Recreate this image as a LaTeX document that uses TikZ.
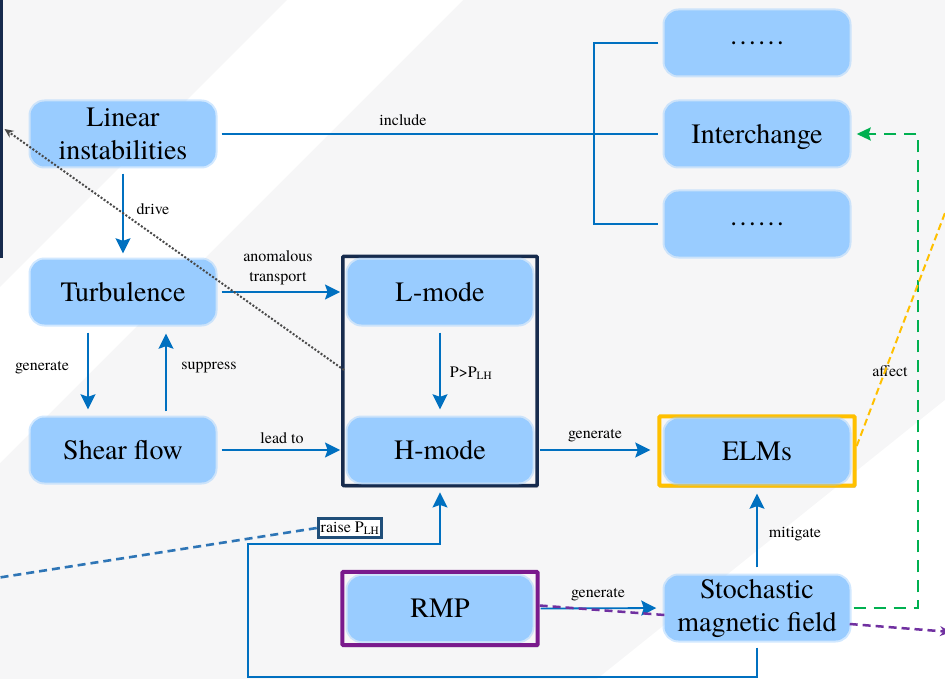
\documentclass[tikz,border=0pt]{standalone}
\usepackage{fontspec}
\setmainfont{texgyretermes}[Extension=.otf, UprightFont=*-regular,
  BoldFont=*-bold, ItalicFont=*-italic, BoldItalicFont=*-bolditalic]
\usetikzlibrary{arrows.meta,shadows,fit,calc}

\definecolor{nodeblue}{HTML}{99CCFF}
\definecolor{linkblue}{HTML}{0070C0}
\definecolor{navyframe}{HTML}{172B4D}
\definecolor{raiseblue}{HTML}{1F4E79}
\definecolor{dashblue}{HTML}{2E75B6}
\definecolor{elmyellow}{HTML}{FFC000}
\definecolor{rmppurple}{HTML}{7A1A8C}
\definecolor{purpledash}{HTML}{7030A0}
\definecolor{greendash}{HTML}{00B050}
\definecolor{bggray}{HTML}{F6F6F7}
\definecolor{dotgray}{HTML}{4A4A4A}

\pgfdeclarelayer{bglayer}
\pgfdeclarelayer{frames}
\pgfsetlayers{bglayer,frames,main}

\tikzset{
  concept/.style={rounded corners=14pt, fill=nodeblue, minimum width=185pt,
    minimum height=65pt, align=center, inner sep=0pt,
    font=\fontsize{28}{33}\selectfont,
    preaction={draw=nodeblue, draw opacity=0.45, line width=4pt}},
  frame/.style={draw=#1, line width=3.5pt, rounded corners=1pt, fill=bggray,
    drop shadow={opacity=0.25, shadow xshift=1.5pt, shadow yshift=-2pt, fill=black}},
  link/.style={draw=linkblue, line width=1.8pt},
  tip/.style={-{Stealth[length=15pt,width=15pt,inset=2.5pt]}},
  arrowlink/.style={link, tip},
  lbl/.style={font=\fontsize{16}{20}\selectfont, inner sep=1pt, align=center},
  raisebox/.style={draw=raiseblue, line width=3pt, fill=white, inner sep=2.5pt,
    font=\fontsize{16}{18}\selectfont,
    drop shadow={opacity=0.25, shadow xshift=1.5pt, shadow yshift=-2pt, fill=black}},
  bluedash/.style={draw=dashblue, line width=2.6pt, dash pattern=on 8pt off 5pt},
  purpledashed/.style={draw=purpledash, line width=2.5pt, dash pattern=on 8pt off 5pt},
  greendashed/.style={draw=greendash, line width=2pt, dash pattern=on 12pt off 8pt},
  yellowdashed/.style={draw=elmyellow, line width=2pt, dash pattern=on 7pt off 4pt},
  dottedlink/.style={draw=dotgray, line width=2pt, dash pattern=on 2pt off 1.8pt,
    -{Stealth[length=9pt,width=8pt]}}
}

\begin{document}
\begin{tikzpicture}[x=1pt, y=-1pt]
\useasboundingbox (0,0) rectangle (945,679);

% light backdrop with pale diagonal bands
\begin{pgfonlayer}{bglayer}
  \fill[bggray] (0,0) rectangle (945,679);
  \fill[white] (287,0) -- (463,0) -- (0,463) -- (0,287) -- cycle;
  \fill[white] (597,679) -- (945,400) -- (945,679) -- cycle;
\end{pgfonlayer}

\clip (0,0) rectangle (945,679);

% concept nodes
\node[concept] (lin) at (123,134) {Linear\\instabilities};
\node[concept] (tur) at (123,292) {Turbulence};
\node[concept] (shr) at (123,450) {Shear flow};
\node[concept] (lmd) at (440,292) {L-mode};
\node[concept] (hmd) at (440,450) {H-mode};
\node[concept] (elm) at (757,451) {ELMs};
\node[concept] (rmp) at (440,608.5) {RMP};
\node[concept] (stc) at (757,608) {Stochastic\\magnetic field};
\node[concept] (dt)  at (757,43)  {……};
\node[concept] (itc) at (757,134) {\raisebox{-3pt}[\height][\depth]{Interchange}};
\node[concept] (db)  at (757,224) {……};

% framing boxes
\begin{pgfonlayer}{frames}
  \node[frame=navyframe, fit=(lmd)(hmd), inner xsep=4.5pt, inner ysep=3pt] (modebox) {};
  \node[frame=elmyellow, line width=4pt, fit=(elm), inner xsep=5pt, inner ysep=2pt] (elmbox) {};
  \node[frame=rmppurple, line width=4pt, fit=(rmp), inner xsep=5pt, inner ysep=4pt] (rmpbox) {};
\end{pgfonlayer}

% panel reaching in from the left edge
\node[draw=navyframe, line width=3pt, minimum width=60pt, minimum height=320pt,
      anchor=south east, inner sep=0pt] (sidepanel) at (3,258) {};

% junction points and free ends
\coordinate (jn) at (594,134);
\coordinate (r1) at (248,677);
\coordinate (r2) at (248,544);
\coordinate (g1) at (918,608);
\coordinate (g2) at (918,134);
\coordinate (dotStart) at (344,370);
\coordinate (dotEnd) at (4.5,129);
\coordinate (raiseOut) at (-10,579);
\coordinate (yOut) at (1001,65);
\coordinate (pOut) at (951,632);

% edge labels
\node[lbl] (lInclude) at (403,120) {include};
\node[lbl] (lDrive) at (153,209) {drive};
\node[lbl] (lAnom) at (278,268) {anomalous\\transport};
\node[lbl] (lGen1) at (42,368) {generate};
\node[lbl] (lSupp) at (209,368) {suppress};
\node[lbl] (lLead) at (282,438) {lead to};
\node[lbl] (lPlh) at (471,373) {P>P\textsubscript{LH}};
\node[lbl] (lGen2) at (595,436) {generate};
\node[lbl] (lMit) at (795,534) {mitigate};
\node[lbl] (lGen3) at (598,595) {generate};
\node[lbl] (lAff) at (890,371) {affect};

% "include" tree
\draw[link, shorten <=6pt] (lin.east) -- (jn);
\draw[link, shorten >=6pt] (jn) -- (itc.west);
\draw[link, shorten <=6pt, shorten >=6pt] (dt.west) -| (jn) |- (db.west);

% solid causal arrows
\draw[arrowlink, shorten <=7pt, shorten >=6pt] (lin.south) -- (tur.north);
\draw[arrowlink, shorten <=6pt, shorten >=1pt] (tur.east) -- (modebox.west |- tur.east);
\draw[arrowlink, shorten <=8pt, shorten >=8pt] ([xshift=-35pt]tur.south) -- ([xshift=-35pt]shr.north);
\draw[arrowlink, shorten <=6pt, shorten >=9pt] ([xshift=43pt]shr.north) -- ([xshift=43pt]tur.south);
\draw[arrowlink, shorten <=6pt, shorten >=1pt] (shr.east) -- (modebox.west |- shr.east);
\draw[arrowlink, shorten <=8pt, shorten >=8pt] (lmd.south) -- (hmd.north);
\draw[arrowlink, shorten <=1pt, shorten >=7pt] (modebox.east |- hmd.east) -- (elmbox.west |- hmd.east);
\draw[arrowlink, shorten <=8pt, shorten >=6pt] (stc.north) -- (elmbox.south);

% raise P_LH loop
\draw[draw=linkblue, line width=1.5pt, tip, shorten <=7pt, shorten >=5pt]
  (stc.south) |- (r1) -- (r2) -| (modebox.south);
\node[raisebox] (raise) at (350,528) {raise P\textsubscript{LH}};
\draw[bluedash] (raise.west) -- (raiseOut);

% RMP to stochastic field
\draw[arrowlink, shorten <=1pt, shorten >=8pt] (rmpbox.east) -- (stc.west);
\draw[purpledashed] ([yshift=3pt]rmpbox.east) -- ([yshift=-7pt]stc.west);
\draw[purpledashed, -{Stealth[length=11pt,width=10pt]}] ([yshift=-16pt]stc.east) -- (pOut);

% feedback to interchange
\draw[greendashed, -{Stealth[length=14pt,width=13pt,inset=2pt]}, shorten <=4pt, shorten >=7pt]
  (stc.east) -- (g1) -- (g2) -- (itc.east);

% ELMs influence
\draw[yellowdashed] ([yshift=5pt]elmbox.east) -- (yOut);

% dotted link back to the side panel
\draw[dottedlink] (dotStart) -- (dotEnd);

\end{tikzpicture}
\end{document}
